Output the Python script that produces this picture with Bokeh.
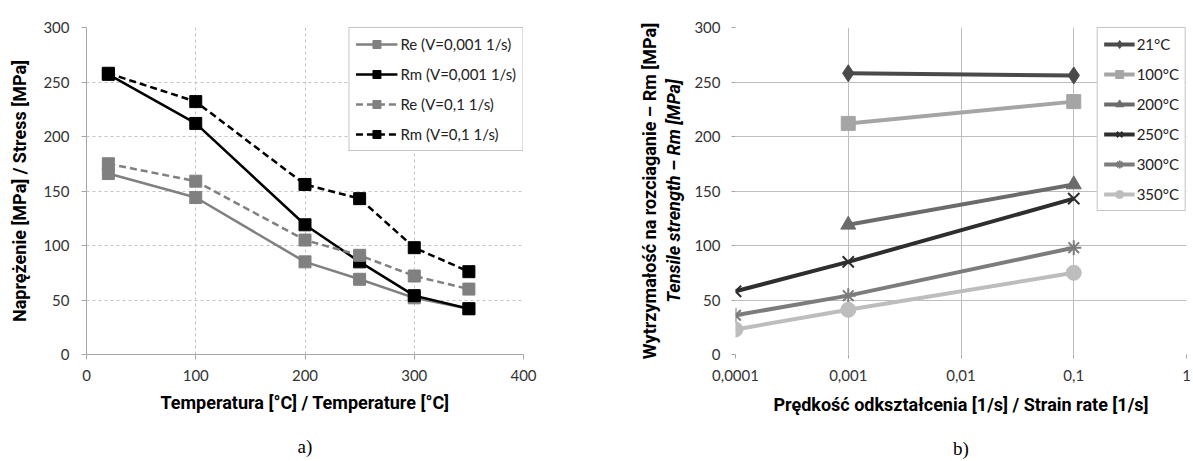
from bokeh.plotting import figure
from bokeh.models import (Legend, LegendItem, FixedTicker, Title,
                          CustomJSTickFormatter, Range1d)
from bokeh.layouts import row
from bokeh.embed import file_html
from bokeh.resources import INLINE

# ---------------- data: chart a ----------------
temps = [20, 100, 200, 250, 300, 350]
re_slow = [166, 144, 85, 69, 52, 42]
rm_slow = [257, 212, 119, 85, 54, 42]
re_fast = [175, 159, 105, 91, 72, 60]
rm_fast = [258, 232, 156, 143, 98, 76]
labels_a = ["Re (V=0,001 1/s)", "Rm (V=0,001 1/s)", "Re (V=0,1 1/s)", "Rm (V=0,1 1/s)"]
ticks_a_x = [0, 100, 200, 300, 400]
ticks_a_y = [0, 50, 100, 150, 200, 250, 300]

# ---------------- data: chart b ----------------
rate_21 = [0.001, 0.1]
rm_21 = [258, 256]
rate_100 = [0.001, 0.1]
rm_100 = [212, 232]
rate_200 = [0.001, 0.1]
rm_200 = [119, 156]
rate_250 = [0.0001, 0.001, 0.1]
rm_250 = [58, 85, 143]
rate_300 = [0.0001, 0.001, 0.1]
rm_300 = [36, 54, 98]
rate_350 = [0.0001, 0.001, 0.1]
rm_350 = [23, 41, 75]
labels_b = ["21°C", "100°C", "200°C", "250°C", "300°C", "350°C"]
ticks_b_x = [0.0001, 0.001, 0.01, 0.1, 1]
ticks_b_y = [0, 50, 100, 150, 200, 250, 300]

TICK_FONT = "Lato"
LABEL_FONT = "Roboto"
LABEL_SIZE = "18px"


def style_axes(p):
    for ax in (p.xaxis, p.yaxis):
        ax.major_label_text_font = TICK_FONT
        ax.major_label_text_font_size = "15px"
        ax.major_label_text_color = "#333333"
        ax.minor_tick_line_color = None
        ax.major_tick_in = 0
        ax.major_tick_out = 5
        ax.major_tick_line_color = "#a6a6a6"
        ax.axis_label_text_font = LABEL_FONT
        ax.axis_label_text_font_size = LABEL_SIZE
        ax.axis_label_text_font_style = "bold"
        ax.axis_label_text_color = "#000000"
    p.outline_line_color = None
    p.background_fill_color = "white"
    p.border_fill_color = "white"


def caption(p, text):
    p.add_layout(Title(text=text, align="center", text_font="Liberation Serif",
                       text_font_size="19px", text_font_style="normal",
                       text_color="#000000", standoff=37), "below")


# ================= chart a =================
pa = figure(frame_width=437, frame_height=327, min_border_left=86,
            min_border_right=77, min_border_top=27, min_border_bottom=107,
            x_range=Range1d(0, 400), y_range=Range1d(0, 300),
            output_backend="svg", toolbar_location=None)
style_axes(pa)
pa.xaxis.ticker = FixedTicker(ticks=ticks_a_x)
pa.yaxis.ticker = FixedTicker(ticks=ticks_a_y)
pa.xaxis.major_label_standoff = 10
pa.yaxis.major_label_standoff = 12
pa.xaxis.axis_label = "Temperatura [°C] / Temperature [°C]"
pa.yaxis.axis_label = "Naprężenie [MPa] / Stress [MPa]"
pa.xaxis.axis_label_standoff = 8
pa.yaxis.axis_label_standoff = 10
for ax in (pa.xaxis, pa.yaxis):
    ax.axis_line_color = "#a6a6a6"
for g in (pa.xgrid, pa.ygrid):
    g.grid_line_color = "#c4c4c4"
    g.grid_line_dash = "3 3"

series_a = [
    (re_slow, "#808080", "solid"),
    (rm_slow, "#000000", "solid"),
    (re_fast, "#808080", "7 4"),
    (rm_fast, "#000000", "7 4"),
]
items_a = []
for (vals, col, dash), lab in zip(series_a, labels_a):
    ln = pa.line(temps, vals, line_color=col, line_width=2.5, line_dash=dash)
    sc = pa.scatter(temps, vals, marker="square", size=12, fill_color=col,
                    line_color=col)
    items_a.append(LegendItem(label=lab, renderers=[ln, sc]))

leg_a = Legend(items=items_a, location="top_right", padding=6, spacing=10,
               glyph_width=42, glyph_height=20, label_standoff=3,
               label_text_font=TICK_FONT, label_text_font_size="15px",
               label_text_color="#222222", border_line_color="#8c8c8c",
               border_line_width=1, background_fill_color="white",
               background_fill_alpha=1.0, margin=0)
pa.add_layout(leg_a, "center")
caption(pa, "a)")

# ================= chart b =================
pb = figure(frame_width=451, frame_height=327, min_border_left=135,
            min_border_right=7, min_border_top=25, min_border_bottom=109,
            x_axis_type="log", x_range=Range1d(0.0001, 1),
            y_range=Range1d(0, 300), output_backend="svg",
            toolbar_location=None)
style_axes(pb)
pb.xaxis.ticker = FixedTicker(ticks=ticks_b_x)
pb.yaxis.ticker = FixedTicker(ticks=ticks_b_y)
pb.xaxis.formatter = CustomJSTickFormatter(
    code="return tick.toString().replace('.', ',');")
pb.xaxis.major_label_standoff = 11
pb.yaxis.major_label_standoff = 11
pb.xaxis.major_tick_out = 4
pb.yaxis.major_tick_out = 4
pb.xaxis.axis_label = "Prędkość odkształcenia [1/s] / Strain rate [1/s]"
pb.xaxis.axis_label_standoff = 10
pb.yaxis.axis_label = "Tensile strength – Rm [MPa]"
pb.yaxis.axis_label_text_font_style = "bold italic"
pb.yaxis.axis_label_standoff = 7
for ax in (pb.xaxis, pb.yaxis):
    ax.axis_line_color = None
for g in (pb.xgrid, pb.ygrid):
    g.grid_line_color = "#bdbdbd"
    g.grid_line_width = 1

pb.add_layout(Title(text="Wytrzymałość na rozciaganie – Rm [MPa]",
                    align="center", text_font=LABEL_FONT,
                    text_font_size=LABEL_SIZE, text_font_style="bold",
                    text_color="#000000", standoff=1), "left")

series_b = [
    (rate_21, rm_21, "#4a4a4a", "diamond", 17),
    (rate_100, rm_100, "#a5a5a5", "square", 14),
    (rate_200, rm_200, "#6b6b6b", "triangle", 15),
    (rate_250, rm_250, "#2e2e2e", "x", 16),
    (rate_300, rm_300, "#7c7c7c", "asterisk", 15),
    (rate_350, rm_350, "#bdbdbd", "circle", 15),
]
items_b = []
for (xs, ys, col, mk, sz), lab in zip(series_b, labels_b):
    ln = pb.line(xs, ys, line_color=col, line_width=4)
    if mk in ("x", "asterisk"):
        sc = pb.scatter(xs, ys, marker=mk, size=sz, line_color=col,
                        line_width=2)
    else:
        sc = pb.scatter(xs, ys, marker=mk, size=sz, fill_color=col,
                        line_color=col)
    items_b.append(LegendItem(label=lab, renderers=[ln, sc]))

leg_b = Legend(items=items_b, location="top_right", padding=6, spacing=10,
               glyph_width=31, glyph_height=20, label_standoff=2,
               label_text_font=TICK_FONT, label_text_font_size="15px",
               label_text_color="#222222", border_line_color="#8c8c8c",
               border_line_width=1, background_fill_color="white",
               background_fill_alpha=1.0, margin=0)
pb.add_layout(leg_b, "center")
caption(pb, "b)")

layout = row(pa, pb)
open("out.html", "w").write(file_html(layout, INLINE))
